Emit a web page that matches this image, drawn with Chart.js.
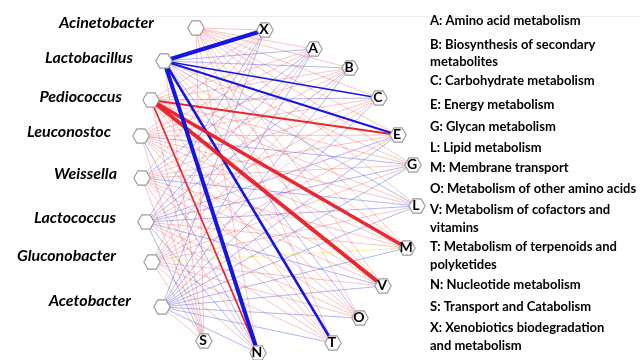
<!DOCTYPE html>
<html>
<head>
<meta charset="utf-8">
<script src="https://cdn.jsdelivr.net/npm/chart.js@4"></script>
<style>
  html, body { margin: 0; padding: 0; background: #ffffff; }
  #wrap { width: 640px; height: 360px; }
</style>
</head>
<body>
<div id="wrap"><canvas id="net" width="640" height="360"></canvas></div>
<script>
// Bacterial genera (left arc) and KEGG functional categories (right arc)
const genera = ['Acinetobacter', 'Lactobacillus', 'Pediococcus', 'Leuconostoc',
                'Weissella', 'Lactococcus', 'Gluconobacter', 'Acetobacter'];
const functionCodes = ['X', 'A', 'B', 'C', 'E', 'G', 'L', 'M', 'V', 'O', 'T', 'N', 'S'];
const functionNames = [
  ['A: Amino acid metabolism'],
  ['B: Biosynthesis of secondary', 'metabolites'],
  ['C: Carbohydrate metabolism'],
  ['E: Energy metabolism'],
  ['G: Glycan metabolism'],
  ['L: Lipid metabolism'],
  ['M: Membrane transport'],
  ['O: Metabolism of other amino acids'],
  ['V: Metabolism of cofactors and', 'vitamins'],
  ['T: Metabolism of terpenoids and', 'polyketides'],
  ['N: Nucleotide metabolism'],
  ['S: Transport and Catabolism'],
  ['X: Xenobiotics biodegradation', 'and metabolism']
];

// Correlation between each genus and each function (columns follow functionCodes).
// Positive = red, negative = blue, 0 = neutral (yellow); magnitude sets line weight.
const acinetobacter = [0.2, 0.2, 0.2, 0.2, 0.2, 0.2, 0.2, 0.2, 0.2, 0.2, 0.2, 0.2, 0.2];
const lactobacillus = [-0.95, -0.3, -0.3, -0.4, -0.6, 0.2, -0.3, 0.2, 0.2, -0.3, -0.65, -0.95, 0.2];
const pediococcus   = [0.2, 0.2, 0.2, -0.2, 0.5, 0.2, 0.2, 0.85, 0.95, 0.2, 0.2, 0.5, 0.2];
const leuconostoc   = [0.2, 0.2, 0.2, 0.2, 0.2, -0.2, 0.2, 0.2, 0.2, 0.2, 0.2, -0.2, 0.2];
const weissella     = [0.2, -0.2, 0.2, 0.2, 0.2, 0.2, -0.2, 0.2, 0.2, 0.2, 0.2, 0.2, 0.2];
const lactococcus   = [-0.2, -0.2, -0.2, 0.2, -0.2, -0.2, -0.2, 0.2, -0.2, 0.2, 0.2, -0.2, -0.2];
const gluconobacter = [0.2, 0.2, 0.2, 0.2, 0.2, 0.2, 0.2, 0.0, 0.2, 0.2, 0.2, 0.2, 0.2];
const acetobacter   = [-0.2, -0.2, -0.2, -0.2, -0.2, -0.2, -0.2, -0.2, -0.2, -0.2, -0.2, -0.2, 0.2];
const correlations = [acinetobacter, lactobacillus, pediococcus, leuconostoc,
                      weissella, lactococcus, gluconobacter, acetobacter];

// Node layout (plot units; the axes span 0..640 by 0..360, y downward)
const genusLayout = [
  [196, 28], [164, 61], [151, 100], [141, 136],
  [142, 178], [146, 222], [152, 262], [162, 307]
];
const functionLayout = [
  [265, 30], [314, 49], [350, 68], [379, 98], [398, 135], [413, 165], [417, 206],
  [407, 248], [383, 286], [360, 318], [333, 343], [258, 353], [204, 341]
];
// right edge and middle line of each genus name
const genusLabelLayout = [
  [154, 23], [133, 58], [122, 97], [111, 132], [117, 174], [116, 218], [116, 256], [131, 301]
];

// Hexagon marker used for every node
function hexagonMarker() {
  const c = document.createElement('canvas');
  c.width = 20; c.height = 18;
  const g = c.getContext('2d');
  const cx = 10, cy = 9, r = 8.2;
  g.beginPath();
  for (let i = 0; i < 6; i++) {
    const a = Math.PI / 3 * i;
    const px = cx + r * Math.cos(a), py = cy + r * Math.sin(a);
    if (i === 0) g.moveTo(px, py); else g.lineTo(px, py);
  }
  g.closePath();
  g.fillStyle = '#ffffff';
  g.fill();
  g.lineWidth = 1.1;
  g.strokeStyle = '#9a9a9a';
  g.stroke();
  return c;
}

function edgeStyle(v) {
  const m = Math.abs(v);
  const strong = m > 0.3;
  let color;
  if (v === 0) color = 'rgba(240, 232, 100, 0.8)';
  else if (v > 0) color = strong ? 'rgba(232, 30, 36, 0.95)' : 'rgba(232, 80, 80, 0.42)';
  else color = strong ? 'rgba(10, 10, 225, 0.95)' : 'rgba(60, 60, 215, 0.48)';
  const width = 0.8 + Math.max(0, m - 0.3) * 5;
  return { color, width, m };
}

const datasets = [];
correlations.forEach((row, gi) => {
  row.forEach((v, fi) => {
    const s = edgeStyle(v);
    datasets.push({
      label: genera[gi] + ' - ' + functionCodes[fi],
      data: [
        { x: genusLayout[gi][0], y: genusLayout[gi][1] },
        { x: functionLayout[fi][0], y: functionLayout[fi][1] }
      ],
      showLine: true,
      borderColor: s.color,
      borderWidth: s.width,
      pointRadius: 0,
      pointHoverRadius: 0,
      fill: false,
      clip: false,
      order: 100 - Math.round(s.m * 50)
    });
  });
});

const hex = hexagonMarker();
datasets.push({
  label: 'nodes',
  data: genusLayout.concat(functionLayout).map(p => ({ x: p[0], y: p[1] })),
  showLine: false,
  pointStyle: hex,
  pointRadius: 9,
  clip: false,
  order: 0
});

const textPlugin = {
  id: 'networkText',
  beforeDatasetsDraw(chart) {
    const ctx = chart.ctx;
    ctx.save();
    ctx.strokeStyle = '#ededed';
    ctx.lineWidth = 1;
    ctx.beginPath();
    ctx.moveTo(152, 16.5);
    ctx.lineTo(640, 16.5);
    ctx.stroke();
    ctx.restore();
  },
  afterDatasetsDraw(chart) {
    const ctx = chart.ctx;
    const xs = chart.scales.x, ys = chart.scales.y;
    ctx.save();
    // function codes inside the hexagons
    ctx.fillStyle = '#000000';
    ctx.font = 'bold 14px Lato, "DejaVu Sans", sans-serif';
    ctx.textAlign = 'center';
    ctx.textBaseline = 'middle';
    functionCodes.forEach((code, i) => {
      ctx.fillText(code, xs.getPixelForValue(functionLayout[i][0]) - 1,
                         ys.getPixelForValue(functionLayout[i][1]) - 1);
    });
    // genus names
    ctx.font = 'italic bold 16px Lato, "DejaVu Sans", sans-serif';
    ctx.textAlign = 'right';
    genera.forEach((name, i) => {
      ctx.fillText(name, genusLabelLayout[i][0], genusLabelLayout[i][1]);
    });
    // key of functional categories
    ctx.font = 'bold 13px Lato, "DejaVu Sans", sans-serif';
    ctx.textAlign = 'left';
    const lineYs = [
      [21], [45, 62], [81], [105], [127], [148], [168],
      [189], [210, 228], [247, 265], [285], [307], [328, 346]
    ];
    functionNames.forEach((lines, i) => {
      lines.forEach((t, j) => ctx.fillText(t, 430, lineYs[i][j]));
    });
    ctx.restore();
  }
};

new Chart(document.getElementById('net'), {
  type: 'scatter',
  data: { datasets },
  options: {
    responsive: false,
    animation: false,
    layout: { padding: 0, autoPadding: false },
    plugins: { legend: { display: false }, tooltip: { enabled: false } },
    events: [],
    scales: {
      x: { type: 'linear', min: 0, max: 640, display: false },
      y: { type: 'linear', min: 0, max: 360, reverse: true, display: false }
    }
  },
  plugins: [textPlugin]
});
</script>
</body>
</html>
